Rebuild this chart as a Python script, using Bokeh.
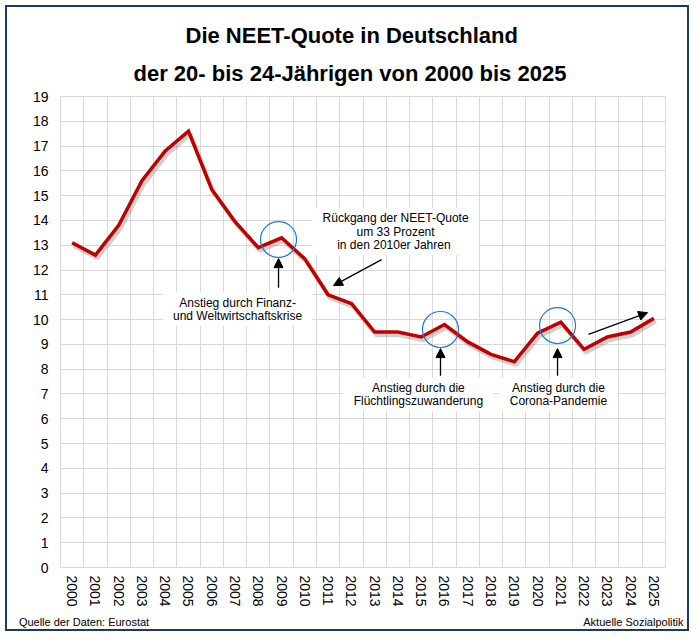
from bokeh.plotting import figure
from bokeh.models import Range1d, FixedTicker, Label, Arrow, NormalHead, Title, LinearAxis
from bokeh.embed import file_html
from bokeh.resources import INLINE

# ---- data ----
years = list(range(2000, 2026))
neet = [13.1, 12.6, 13.8, 15.6, 16.8, 17.6, 15.25, 13.95, 12.9, 13.3,
        12.45, 11.0, 10.65, 9.5, 9.5, 9.3, 9.8, 9.1, 8.6, 8.3,
        9.45, 9.9, 8.8, 9.3, 9.5, 10.05]
y_ticks = list(range(0, 20))

title_line1 = "Die NEET-Quote in Deutschland"
title_line2 = "der 20- bis 24-Jährigen von 2000 bis 2025"
source_text = "Quelle der Daten: Eurostat"
brand_text = "Aktuelle Sozialpolitik"
footer_pos = [2000.51, 2024.12]

# highlighted peaks (year, value)
circle_x = [2008.87, 2015.83, 2020.86]
circle_y = [13.23, 9.6, 9.76]

notes = [
    ("Anstieg durch Finanz-\nund Weltwirtschaftskrise", 2007.11, 10.42),
    ("Rückgang der NEET-Quote\num 33 Prozent\nin den  2010er Jahren", 2013.9, 13.55),
    ("Anstieg durch die\nFlüchtlingszuwanderung", 2014.88, 6.98),
    ("Anstieg durch die\nCorona-Pandemie", 2020.9, 6.98),
]
arrows = [
    (2008.87, 11.29, 2008.87, 12.46),
    (2015.83, 7.74, 2015.83, 8.83),
    (2020.86, 7.74, 2020.86, 8.83),
    (2013.3, 12.42, 2011.23, 11.37),
    (2022.19, 9.40, 2024.73, 10.28),
]

FONT = "Liberation Sans"

p = figure(width=684, height=626, output_backend="svg", toolbar_location=None,
           x_range=Range1d(years[0] - 0.5, years[-1] + 0.5),
           y_range=Range1d(0, 19),
           min_border_left=53, min_border_right=26, min_border_top=89,
           min_border_bottom=66, title=title_line1)
p.styles = {"border": "2px solid #1f3864", "margin": "5px 0px 0px 5px"}
p.background_fill_color = "white"
p.border_fill_color = "white"
p.outline_line_color = "#d9d9d9"

# two-line title, each line centred (p.title sits outermost, t2 next to the frame)
p.title.align = "left"
p.title.offset = 125
p.title.text_font = FONT
p.title.text_font_size = "22px"
p.title.text_font_style = "bold"
p.title.text_color = "black"
p.title.standoff = 0
t2 = Title(text=title_line2, align="left", offset=73, text_font=FONT,
           text_font_size="22px", text_font_style="bold", text_color="black",
           standoff=22)
p.add_layout(t2, "above")

# axes
p.xaxis.ticker = FixedTicker(ticks=years)
p.yaxis.ticker = FixedTicker(ticks=y_ticks)
for ax in (p.xaxis, p.yaxis):
    ax.axis_line_color = None
    ax.major_tick_line_color = None
    ax.minor_tick_line_color = None
    ax.major_tick_out = 0
    ax.major_tick_in = 0
    ax.major_label_text_font = FONT
    ax.major_label_text_color = "black"
p.xaxis.major_label_orientation = "vertical"
p.xaxis.major_label_text_font_size = "14px"
p.xaxis.major_label_standoff = 8
p.yaxis.major_label_text_font_size = "14px"
p.yaxis.major_label_standoff = 12

# footer line as an extra bottom axis with two labelled ticks
foot = LinearAxis(ticker=FixedTicker(ticks=footer_pos),
                  major_label_overrides={footer_pos[0]: source_text,
                                         footer_pos[1]: brand_text},
                  axis_line_color=None, major_tick_line_color=None,
                  minor_tick_line_color=None, major_tick_out=0, major_tick_in=0,
                  major_label_standoff=6,
                  major_label_text_font=FONT, major_label_text_font_size="11px",
                  major_label_text_color="black")
p.add_layout(foot, "below")

# grid at category boundaries
p.xgrid.ticker = FixedTicker(ticks=[y - 0.5 for y in years] + [years[-1] + 0.5])
p.ygrid.ticker = FixedTicker(ticks=y_ticks)
p.xgrid.grid_line_color = "#d9d9d9"
p.ygrid.grid_line_color = "#d9d9d9"

# line with soft shadow
p.line([y + 0.08 for y in years], [v - 0.12 for v in neet],
       line_color="#777777", line_alpha=0.35, line_width=4.5)
p.line(years, neet, line_color="#c00000", line_width=3.5, line_join="miter")

# circles
p.scatter(circle_x, circle_y, marker="circle", size=36, fill_color=None,
          line_color="#1f7ad4", line_width=1.2)

# arrows
for x0, y0, x1, y1 in arrows:
    p.add_layout(Arrow(x_start=x0, y_start=y0, x_end=x1, y_end=y1,
                       line_color="black", line_width=1.3,
                       end=NormalHead(size=9, fill_color="black", line_color="black")))

# notes
for txt, nx, ny in notes:
    p.add_layout(Label(x=nx, y=ny, text=txt, text_align="center", text_baseline="middle",
                       text_font=FONT, text_font_size="12px", text_color="black",
                       text_line_height=0.95,
                       background_fill_color="white",
                       padding=dict(left=10, right=10, top=3, bottom=3)))

open("out.html", "w").write(file_html(p, INLINE))
